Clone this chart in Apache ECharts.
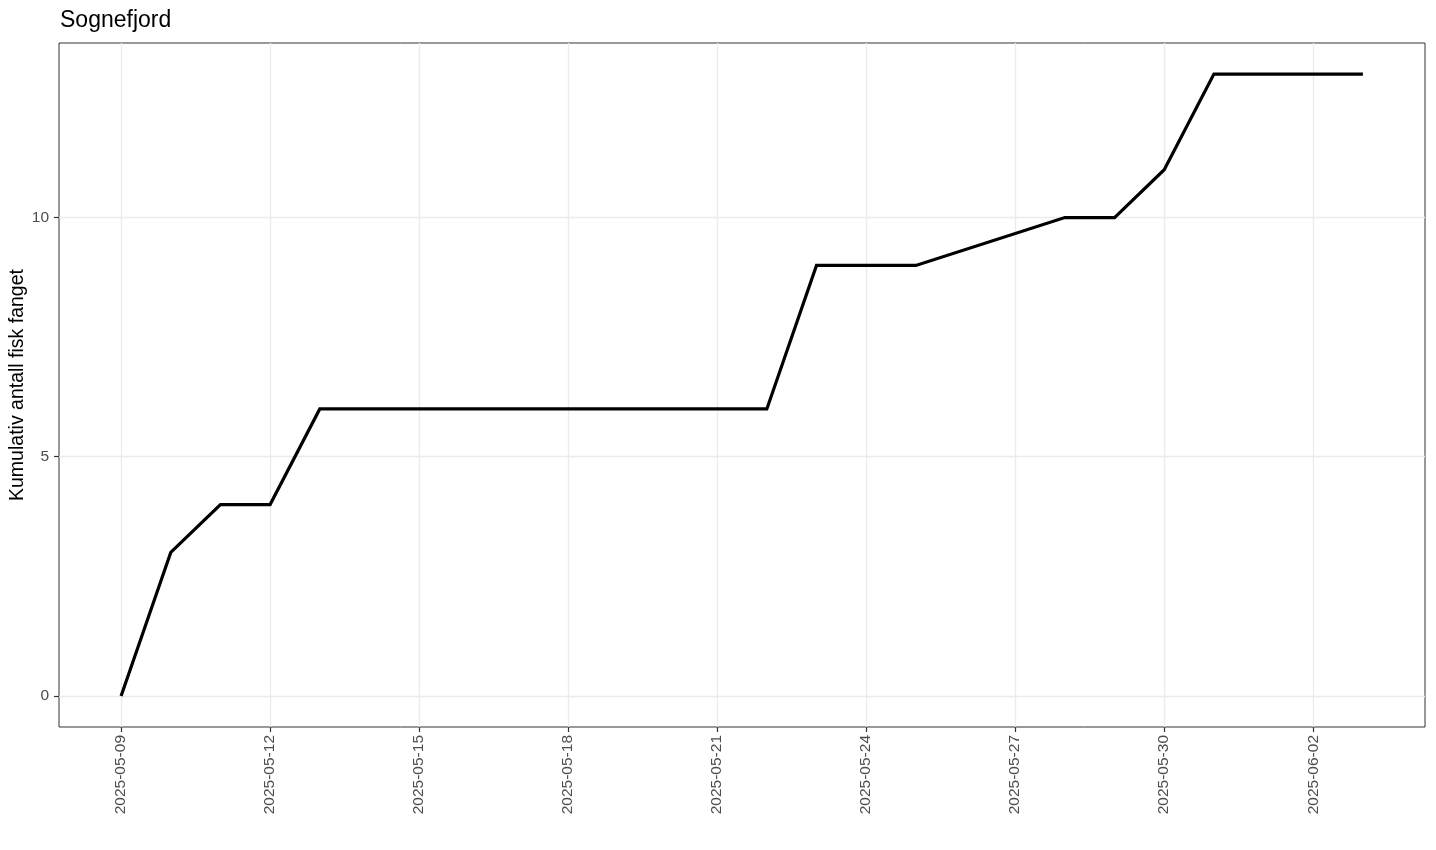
<!DOCTYPE html>
<html>
<head>
<meta charset="utf-8">
<script src="https://cdn.jsdelivr.net/npm/echarts@6/dist/echarts.min.js"></script>
<style>
  html, body { margin: 0; padding: 0; background: #ffffff; }
  #chart { width: 1436px; height: 850px; }
</style>
</head>
<body>
<div id="chart"></div>
<script>
// ---- Data ----
const titleText = 'Sognefjord';
const yAxisTitle = 'Kumulativ antall fisk fanget';
const dates = ['2025-05-09','2025-05-10','2025-05-11','2025-05-12','2025-05-13','2025-05-22','2025-05-23','2025-05-25','2025-05-28','2025-05-29','2025-05-30','2025-05-31','2025-06-03'];
const values = [0, 3, 4, 4, 6, 6, 9, 9, 10, 10, 11, 13, 13];
const xTickDates = ['2025-05-09','2025-05-12','2025-05-15','2025-05-18','2025-05-21','2025-05-24','2025-05-27','2025-05-30','2025-06-02'];
const yTicks = [0, 5, 10];

// ---- Helpers ----
function ts(s) { const p = s.split('-').map(Number); return new Date(p[0], p[1] - 1, p[2]).getTime(); }
function fmt(v) {
  const d = new Date(Math.round(v / 3600000) * 3600000);
  const mm = String(d.getMonth() + 1).padStart(2, '0');
  const dd = String(d.getDate()).padStart(2, '0');
  return d.getFullYear() + '-' + mm + '-' + dd;
}
const xStart = ts(dates[0]);
const xEnd = ts(dates[dates.length - 1]);
const xPad = (xEnd - xStart) * 0.05;
const yMinData = Math.min(...values), yMaxData = Math.max(...values);
const yPad = (yMaxData - yMinData) * 0.05;

const seriesData = dates.map((d, i) => [ts(d), values[i]]);
const xTickVals = xTickDates.map(ts);

const FONT = 'Liberation Sans, Arial, sans-serif';
const chart = echarts.init(document.getElementById('chart'), null, { renderer: 'canvas' });
chart.setOption({
  animation: false,
  backgroundColor: '#ffffff',
  title: {
    text: titleText,
    left: 55,
    top: 4,
    textStyle: { fontFamily: FONT, fontSize: 23, fontWeight: 'normal', color: '#000000' }
  },
  graphic: [{
    type: 'text',
    x: 18,
    y: 385,
    rotation: Math.PI / 2,
    silent: true,
    style: {
      text: yAxisTitle,
      fontFamily: FONT,
      fontSize: 19.5,
      fill: '#000000',
      align: 'center',
      verticalAlign: 'middle'
    }
  }],
  grid: {
    left: 59, right: 11, top: 43, bottom: 123,
    containLabel: false,
    outerBoundsMode: 'none',
    show: true, borderColor: '#333333', borderWidth: 1, backgroundColor: 'transparent'
  },
  xAxis: {
    type: 'value',
    min: xStart - xPad,
    max: xEnd + xPad,
    axisLine: { show: false, onZero: false },
    axisTick: { show: true, length: 5, lineStyle: { color: '#333333', width: 1.2 }, customValues: xTickVals },
    axisLabel: {
      customValues: xTickVals,
      rotate: 90,
      margin: 8,
      color: '#4D4D4D',
      fontFamily: FONT,
      fontSize: 15.5,
      formatter: v => fmt(v),
      hideOverlap: false
    },
    splitLine: { show: true, lineStyle: { color: '#EBEBEB', width: 1.3 } }
  },
  yAxis: {
    type: 'value',
    min: yMinData - yPad,
    max: yMaxData + yPad,
    axisLine: { show: false },
    axisTick: { show: true, length: 5, lineStyle: { color: '#333333', width: 1.2 }, customValues: yTicks },
    axisLabel: {
      customValues: yTicks,
      margin: 10,
      color: '#4D4D4D',
      fontFamily: FONT,
      fontSize: 15.5
    },
    splitLine: { show: true, lineStyle: { color: '#EBEBEB', width: 1.3 } }
  },
  series: [{
    type: 'line',
    data: seriesData,
    showSymbol: false,
    symbol: 'none',
    lineStyle: { color: '#000000', width: 3.2, join: 'miter' },
    itemStyle: { color: '#000000' },
    z: 5
  }]
});
</script>
</body>
</html>
